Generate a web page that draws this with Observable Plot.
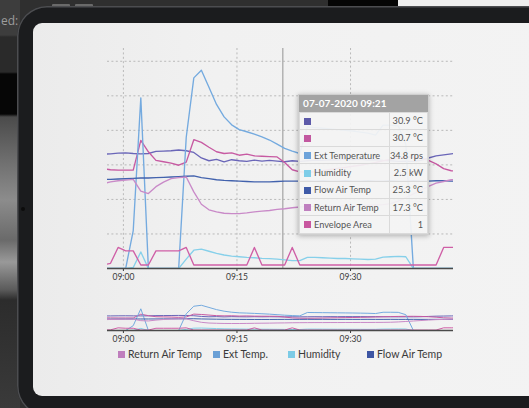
<!DOCTYPE html>
<html>
<head>
<meta charset="utf-8">
<script src="https://cdn.jsdelivr.net/npm/d3@7"></script>
<script src="https://cdn.jsdelivr.net/npm/@observablehq/plot@0.6"></script>
<style>
html,body{margin:0;padding:0;width:529px;height:408px;overflow:hidden;background:#333;font-family:Lato,"Open Sans",sans-serif;}
#scene{position:relative;width:529px;height:408px;overflow:hidden;background:#2f2f2f;}
.abs{position:absolute;}
#leftstrip{left:0;top:0;width:20px;height:408px;background:linear-gradient(180deg,#3d3d3d 0px,#3d3d3d 35px,#2a2a2a 37px,#2a2a2a 72px,#060606 74px,#060606 114px,#4b4b4b 117px,#6e6e6e 160px,#8c8c8c 200px,#6a6a6a 240px,#999 262px,#5a5a5a 290px,#2c2c2c 300px,#3a3a3a 408px);}
#edtext{left:1px;top:12px;font-size:12px;color:#9c9c9c;font-family:"Open Sans",sans-serif;}
#topblack{left:328px;top:0;width:70px;height:6px;background:#050505;}
#topwhite{left:398px;top:0;width:131px;height:6px;background:#eeeeee;}
#bezel{left:17px;top:6px;width:560px;height:410px;background:#1b1c1e;border-radius:30px;box-shadow:inset 0 0 0 1.5px #4c4d50;}
#btn1{left:52px;top:4px;width:18px;height:3px;background:#6a6a6a;border-radius:1px;}
#btn2{left:75px;top:4px;width:18px;height:3px;background:#6a6a6a;border-radius:1px;}
#cam{left:21px;top:207px;width:4px;height:4px;border-radius:2px;background:#0c0c0c;}
#screen{left:33px;top:23px;width:520px;height:373px;border-radius:9px;background:linear-gradient(90deg,#ebebeb 0%,#f1f1f1 35%,#f3f3f3 100%);}
#main{left:100px;top:40px;}
#overview{left:100px;top:296px;}
#tip{left:298px;top:94px;width:131px;background:rgba(244,244,244,0.93);box-shadow:0 1px 5px rgba(0,0,0,0.28);border:1px solid #cfcfcf;box-sizing:border-box;}
#tip .head{background:#a3a3a3;color:#fff;font-weight:bold;font-size:10px;height:16.5px;line-height:16.5px;padding-left:4px;letter-spacing:0.1px;}
#tip table{border-collapse:collapse;width:100%;font-size:9.2px;color:#555;}
#tip td{border:1px solid #dadada;height:16.3px;padding:0;white-space:nowrap;}
#tip td.lab{width:89px;padding-left:4px;}
#tip td.val{text-align:right;padding-right:4px;}
#tip .sw{display:inline-block;width:7px;height:7px;vertical-align:-0.5px;margin-right:3px;}
#legend{left:0;top:347px;width:529px;height:14px;font-size:10.5px;color:#3a3a3a;}
#legend .item{position:absolute;top:0;white-space:nowrap;line-height:14px;}
#legend .sw{display:inline-block;width:7px;height:7px;margin-right:3px;vertical-align:0px;}
</style>
</head>
<body>
<div id="scene">
  <div id="leftstrip" class="abs"></div>
  <div id="edtext" class="abs">ed:</div>
  <div id="topblack" class="abs"></div>
  <div id="topwhite" class="abs"></div>
  <div id="btn1" class="abs"></div>
  <div id="btn2" class="abs"></div>
  <div id="bezel" class="abs"></div>
  <div id="cam" class="abs"></div>
  <div id="screen" class="abs"></div>
  <div id="main" class="abs"></div>
  <div id="overview" class="abs"></div>
  <div id="tip" class="abs"></div>
  <div id="legend" class="abs"></div>
</div>
<script>
// ---------- data ----------
const times = [
  "08:57:18","08:58:18","08:59:18","09:00:18","09:01:18","09:02:18","09:03:18","09:04:18",
  "09:05:18","09:06:18","09:07:18","09:08:18","09:09:18","09:10:18","09:11:18","09:12:18",
  "09:13:18","09:14:18","09:15:18","09:16:18","09:17:18","09:18:18","09:19:18","09:20:18",
  "09:21:18","09:22:18","09:23:18","09:24:18","09:25:18","09:26:18","09:27:18","09:28:18",
  "09:29:18","09:30:18","09:31:18","09:32:18","09:33:18","09:34:18","09:35:18","09:36:18",
  "09:37:18","09:38:18","09:39:18","09:40:18","09:41:18","09:42:18","09:43:18","09:44:18"
];
const seriesA = [33.1,33.2,33.4,33.5,33.3,33.2,33.3,33.9,34.0,34.1,34.3,34.1,33.6,32.0,31.2,31.6,
  30.9,31.5,31.2,31.0,31.4,31.1,31.3,31.1,30.9,31.2,31.0,31.2,31.4,31.3,31.5,31.4,
  31.6,31.5,31.6,31.4,31.5,31.3,31.2,31.0,31.1,31.0,31.3,32.0,32.6,32.9,33.2,33.4];
const seriesB = [28.9,28.6,28.5,28.5,28.5,37.1,33.8,31.3,30.9,30.5,29.9,30.8,37.3,36.5,35.1,33.8,
  33.3,33.5,32.8,33.1,32.6,32.5,32.4,32.3,30.7,28.6,28.0,27.8,28.0,28.3,28.7,29.0,
  29.3,29.6,29.9,30.3,30.7,31.2,31.6,32.0,32.2,32.3,32.0,31.3,30.3,28.9,28.3,28.2];
const extTemperature = [0,0,0,0,11,49.4,0,0,0,0,0,38,55.2,57.4,52.5,47.5,
  43.9,41.6,40.2,39.6,38.9,38.1,37.2,36.0,34.8,34.0,33.3,41.0,40.8,40.6,40.4,40.2,
  40.0,39.8,39.5,39.2,38.6,41.5,41.5,41.3,36.0,0,0,0,0,0,0,0];
const humidity = [0,0,0,0,0.3,4.8,0,0,0,0,0,2.7,5.3,5.6,5.0,4.4,
  3.9,3.6,3.4,3.2,3.1,2.95,2.85,2.7,2.5,2.3,2.3,3.2,3.2,3.1,3.0,2.9,
  2.9,2.8,2.7,2.6,2.7,3.3,3.4,3.5,3.4,0,0,0,0,0,0,0];
const flowAirTemp = [25.8,25.8,25.9,26.0,26.1,26.2,26.2,26.3,26.4,26.5,26.6,26.7,26.8,26.3,26.0,25.7,
  25.5,25.4,25.3,25.2,25.1,25.1,25.1,25.2,25.3,25.3,25.3,25.4,25.3,25.4,25.3,25.3,
  25.4,25.3,25.3,25.4,25.3,25.3,25.4,25.3,25.3,25.4,25.3,25.3,25.4,25.4,25.3,25.3];
const returnAirTemp = [24.5,25.1,25.4,25.6,25.8,22.4,21.7,23.7,25.0,26.0,26.3,26.5,22.2,18.6,17.0,16.4,
  16.0,15.9,15.9,16.1,16.4,16.6,16.8,17.1,17.3,17.6,17.8,17.9,18.0,18.0,18.1,18.1,
  18.2,18.2,18.3,18.3,18.4,18.5,18.8,19.5,20.5,21.6,22.7,23.8,24.7,25.2,25.7,25.9];
const envelopeArea = [1,1.5,6.1,5.1,5.1,1,1,5.1,5.1,5.1,5.1,6.1,1,1,1,1,
  1,1,1,1,6.1,1,1,1,1,6.1,1,1,1,1,1,1,
  1,1,1,1,1,1,1,1,1,1,1,1,1,6.1,6.1,6.1];

const seriesNames = ["Series A","Series B","Ext Temperature","Humidity","Flow Air Temp","Return Air Temp","Envelope Area"];
const seriesColors = ["#6a66b8","#c75aa2","#74aadf","#86d0ea","#4262ad","#c98ac8","#cf5fa6"];
const seriesValues = [seriesA, seriesB, extTemperature, humidity, flowAirTemp, returnAirTemp, envelopeArea];

const xStart = "08:57:54", xEnd = "09:43:36";
const tickLabels = ["09:00","09:15","09:30"];
const gridValues = [10,20,30,40,50,60];
const yMax = 63.7;
const cursorTime = "09:21:03";

const tipTitle = "07-07-2020 09:21";
const tipLabels = ["","","Ext Temperature","Humidity","Flow Air Temp","Return Air Temp","Envelope Area"];
const tipValues = ["30.9 °C","30.7 °C","34.8 rps","2.5 kW","25.3 °C","17.3 °C","1"];
const tipColors = ["#5d5aa9","#c258a0","#6da3da","#7fcde8","#3e5aa8","#bf80bf","#c8579f"];

const legendLabels = ["Return Air Temp","Ext Temp.","Humidity","Flow Air Temp"];
const legendColors = ["#bf7ebd","#6aa0d6","#7ccbe6","#3d55a3"];

// ---------- build ----------
const parse = d3.utcParse("%H:%M:%S");
const rows = [];
seriesValues.forEach((vals, s) => vals.forEach((v, i) => rows.push({time: parse(times[i]), value: v, series: seriesNames[s]})));
const xDomain = [parse(xStart), parse(xEnd)];
const tickDates = tickLabels.map(l => parse(l + ":00"));
const fmt = d3.utcFormat("%H:%M");
const baseStyle = {background: "transparent", overflow: "visible", fontSize: "8.5px", fontFamily: "Lato, 'Open Sans', sans-serif", color: "#3a3a3a"};

const mainChart = Plot.plot({
  width: 360, height: 246,
  marginLeft: 7, marginRight: 7, marginTop: 8, marginBottom: 18,
  x: {type: "utc", domain: xDomain, ticks: tickDates, tickFormat: fmt, tickSize: 3, tickPadding: 2, label: null},
  y: {domain: [0, yMax], axis: null},
  color: {domain: seriesNames, range: seriesColors},
  style: baseStyle,
  marks: [
    Plot.ruleY(gridValues, {stroke: "#b9b9b9", strokeWidth: 1, strokeDasharray: "2,2.4"}),
    Plot.ruleX(tickDates, {stroke: "#b9b9b9", strokeWidth: 1, strokeDasharray: "2,2.4"}),
    Plot.ruleX([parse(cursorTime)], {stroke: "#b3b3b3", strokeWidth: 1.5}),
    Plot.line(rows, {x: "time", y: "value", z: "series", stroke: "series", strokeWidth: 1.35, clip: true}),
    Plot.ruleY([0], {stroke: "#4a4a4a", strokeWidth: 1.5})
  ]
});
document.getElementById("main").appendChild(mainChart);

const overview = Plot.plot({
  width: 360, height: 50,
  marginLeft: 7, marginRight: 7, marginTop: 6, marginBottom: 16,
  x: {type: "utc", domain: xDomain, ticks: tickDates, tickFormat: fmt, tickSize: 3, tickPadding: 2, label: null},
  y: {domain: [0, yMax], axis: null},
  color: {domain: seriesNames, range: seriesColors},
  style: baseStyle,
  marks: [
    Plot.line(rows, {x: "time", y: "value", z: "series", stroke: "series", strokeWidth: 1, clip: true}),
    Plot.ruleY([0], {stroke: "#4a4a4a", strokeWidth: 1.5})
  ]
});
document.getElementById("overview").appendChild(overview);

// tooltip
const tip = document.getElementById("tip");
const head = document.createElement("div");
head.className = "head";
head.textContent = tipTitle;
tip.appendChild(head);
const table = document.createElement("table");
tipLabels.forEach((lab, i) => {
  const tr = document.createElement("tr");
  const td1 = document.createElement("td");
  td1.className = "lab";
  const sw = document.createElement("span");
  sw.className = "sw";
  sw.style.background = tipColors[i];
  td1.appendChild(sw);
  td1.appendChild(document.createTextNode(lab));
  const td2 = document.createElement("td");
  td2.className = "val";
  td2.textContent = tipValues[i];
  tr.appendChild(td1); tr.appendChild(td2);
  table.appendChild(tr);
});
tip.appendChild(table);

// legend
const legendLeft = [118, 213, 288, 367];
const legend = document.getElementById("legend");
legendLabels.forEach((lab, i) => {
  const it = document.createElement("div");
  it.className = "item";
  it.style.left = legendLeft[i] + "px";
  const sw = document.createElement("span");
  sw.className = "sw";
  sw.style.background = legendColors[i];
  it.appendChild(sw);
  it.appendChild(document.createTextNode(lab));
  legend.appendChild(it);
});
</script>
</body>
</html>
